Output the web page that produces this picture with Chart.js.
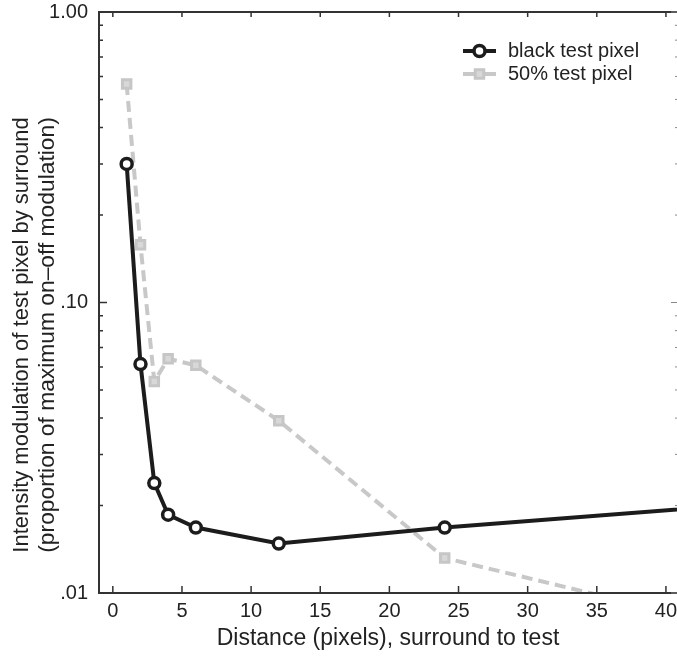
<!DOCTYPE html>
<html>
<head>
<meta charset="utf-8">
<script src="https://cdn.jsdelivr.net/npm/chart.js@4/dist/chart.umd.min.js"></script>
<style>
  html, body { margin: 0; padding: 0; background: #fff; }
  #wrap { width: 677px; height: 658px; position: relative; }
</style>
</head>
<body>
<div id="wrap"><canvas id="chart"></canvas></div>
<script>
// distances (pixels) between surround and test pixel
const distances = [1, 2, 3, 4, 6, 12, 24, 48];
const blackPixel = [0.30, 0.0614, 0.0239, 0.0186, 0.0168, 0.0148, 0.0168, 0.0206];
const grayPixel = [0.565, 0.158, 0.0535, 0.064, 0.0608, 0.0392, 0.0132, 0.0070];

const seriesNames = ["black test pixel", "50% test pixel"];
const xTicks = [0, 5, 10, 15, 20, 25, 30, 35, 40];
const yMajor = [0.01, 0.1, 1];
const yMajorLabels = [".01", ".10", "1.00"];
const yTitle = ["Intensity modulation of test pixel by surround",
                "(proportion of maximum on\u2013off modulation)"];

const FONT = "'Liberation Sans', Arial, Helvetica, sans-serif";
const AXIS = "#333";

function toPoints(xs, ys) {
    return xs.map(function (x, i) { return { x: x, y: ys[i] }; });
}

function minorLogTicks() {
    const out = [];
    for (let d = 0; d < yMajor.length - 1; d++) {
        for (let m = 1; m < 10; m++) out.push(+(yMajor[d] * m).toPrecision(3));
    }
    out.push(yMajor[yMajor.length - 1]);
    return out;
}

// frame with inward ticks, like the original figure
const framePlugin = {
    id: "frame",
    afterDatasetsDraw: function (chart) {
        const ctx = chart.ctx;
        const a = chart.chartArea;
        const xs = chart.scales.x;
        const ys = chart.scales.y;
        ctx.save();
        ctx.strokeStyle = AXIS;
        ctx.lineWidth = 2;
        ctx.beginPath();
        ctx.moveTo(a.right + 2, a.top);
        ctx.lineTo(a.left, a.top);
        ctx.lineTo(a.left, a.bottom);
        ctx.lineTo(a.right + 2, a.bottom);
        ctx.stroke();

        ctx.lineWidth = 1.5;
        ctx.beginPath();
        xTicks.forEach(function (v) {
            const px = xs.getPixelForValue(v);
            ctx.moveTo(px, a.bottom);
            ctx.lineTo(px, a.bottom - 7);
            ctx.moveTo(px, a.top);
            ctx.lineTo(px, a.top + 5);
        });
        minorLogTicks().forEach(function (v) {
            const py = ys.getPixelForValue(v);
            const len = yMajor.indexOf(v) >= 0 ? 8 : 4;
            ctx.moveTo(a.left, py);
            ctx.lineTo(a.left + len, py);
        });
        ctx.stroke();

        ctx.strokeStyle = "#888";
        ctx.lineWidth = 1;
        ctx.beginPath();
        minorLogTicks().forEach(function (v) {
            const py = ys.getPixelForValue(v);
            const len = yMajor.indexOf(v) >= 0 ? 6 : 2;
            ctx.moveTo(a.right, py);
            ctx.lineTo(a.right - len, py);
        });
        ctx.stroke();

        // y axis title, sits a bit below the middle of the axis in the original
        ctx.fillStyle = "#222";
        ctx.textAlign = "center";
        ctx.textBaseline = "middle";
        ctx.translate(0, 335);
        ctx.rotate(-Math.PI / 2);
        ctx.font = "22px " + FONT;
        ctx.fillText(yTitle[0], 0, 22);
        ctx.font = "22.8px " + FONT;
        ctx.fillText(yTitle[1], 0, 48);
        ctx.restore();
    }
};

// legend drawn inside the plot, line segment + marker
const legendPlugin = {
    id: "insideLegend",
    afterDraw: function (chart) {
        const ctx = chart.ctx;
        const x0 = 463, x1 = 496, tx = 508;
        const rows = [51, 74];
        ctx.save();
        chart.data.datasets.forEach(function (ds, i) {
            const y = rows[i];
            ctx.strokeStyle = ds.borderColor;
            ctx.lineWidth = ds.borderWidth;
            ctx.beginPath();
            ctx.moveTo(x0, y);
            ctx.lineTo(x1, y);
            ctx.stroke();
            ctx.fillStyle = ds.pointBackgroundColor;
            ctx.strokeStyle = ds.pointBorderColor;
            ctx.lineWidth = ds.pointBorderWidth;
            Chart.helpers.drawPoint(ctx, {
                pointStyle: ds.pointStyle,
                radius: ds.pointRadius,
                borderWidth: ds.pointBorderWidth
            }, (x0 + x1) / 2, y);
            ctx.fillStyle = "#222";
            ctx.font = "20px " + FONT;
            ctx.textBaseline = "middle";
            ctx.fillText(ds.label, tx, y);
        });
        ctx.restore();
    }
};

const canvas = document.getElementById("chart");

new Chart(canvas, {
    type: "line",
    data: {
        datasets: [
            {
                label: seriesNames[0],
                data: toPoints(distances, blackPixel),
                borderColor: "#1c1c1c",
                borderWidth: 4,
                pointStyle: "circle",
                pointRadius: 5.5,
                pointBorderWidth: 3.5,
                pointBorderColor: "#1c1c1c",
                pointBackgroundColor: "#fff",
                tension: 0
            },
            {
                label: seriesNames[1],
                data: toPoints(distances, grayPixel),
                borderColor: "#c8c8c8",
                borderWidth: 4,
                borderDash: [11, 6],
                pointStyle: "rect",
                pointRadius: 6,
                pointBorderWidth: 3,
                pointBorderColor: "#c6c6c6",
                pointBackgroundColor: "#d8d8d8",
                tension: 0
            }
        ]
    },
    options: {
        responsive: true,
        maintainAspectRatio: false,
        animation: false,
        layout: {
            autoPadding: false,
            padding: { top: 12, right: 0, left: 0, bottom: 0 }
        },
        plugins: {
            legend: { display: false },
            tooltip: { enabled: false }
        },
        scales: {
            x: {
                type: "linear",
                min: -1,
                max: 40.8,
                grid: { display: false, drawTicks: false },
                border: { display: false },
                afterBuildTicks: function (scale) {
                    scale.ticks = xTicks.map(function (v) { return { value: v }; });
                },
                afterFit: function (scale) {
                    scale.height = 65;
                    scale.paddingLeft = 0;
                    scale.paddingRight = 0;
                },
                ticks: {
                    padding: 6,
                    color: "#222",
                    font: { family: FONT, size: 20 },
                    maxRotation: 0,
                    autoSkip: false
                },
                title: {
                    display: true,
                    text: "Distance (pixels), surround to test",
                    color: "#222",
                    font: { family: FONT, size: 23 },
                    padding: { top: 0, bottom: 6 }
                }
            },
            y: {
                type: "logarithmic",
                min: 0.01,
                max: 1,
                grid: { display: false, drawTicks: false },
                border: { display: false },
                afterBuildTicks: function (scale) {
                    scale.ticks = yMajor.map(function (v) { return { value: v }; });
                },
                afterFit: function (scale) {
                    scale.width = 99;
                    scale.paddingTop = 0;
                    scale.paddingBottom = 0;
                },
                ticks: {
                    padding: 11,
                    color: "#222",
                    font: { family: FONT, size: 20 },
                    autoSkip: false,
                    callback: function (value) {
                        const i = yMajor.indexOf(value);
                        return i >= 0 ? yMajorLabels[i] : "";
                    }
                }
            }
        }
    },
    plugins: [framePlugin, legendPlugin]
});
</script>
</body>
</html>
